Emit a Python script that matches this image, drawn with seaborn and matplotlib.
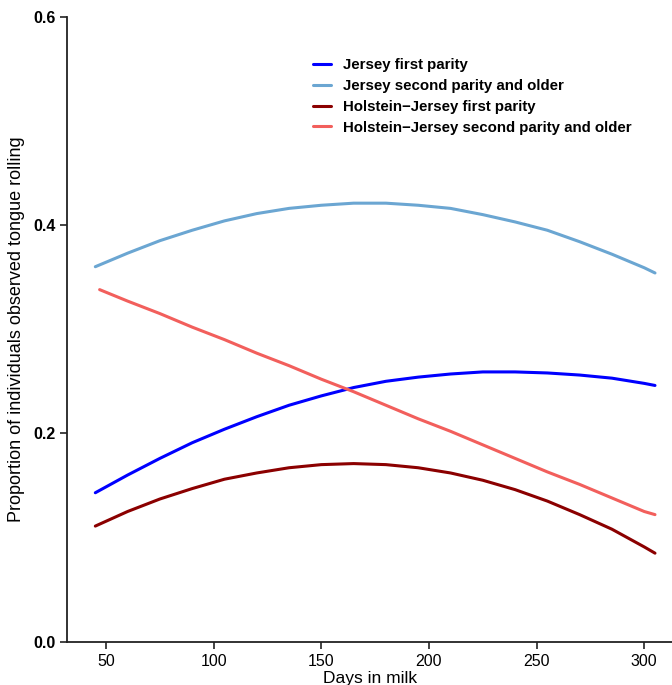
import pandas as pd
import matplotlib.pyplot as plt
import seaborn as sns

# Values
days = [45, 60, 75, 90, 105, 120, 135, 150, 165, 180, 195, 210, 225, 240, 255, 270, 285, 300, 305]
hj_days = [47, 60, 75, 90, 105, 120, 135, 150, 165, 180, 195, 210, 225, 240, 255, 270, 285, 300, 305]

jersey_first = [0.143, 0.160, 0.176, 0.191, 0.204, 0.216, 0.227, 0.236, 0.244, 0.250,
                0.254, 0.257, 0.259, 0.259, 0.258, 0.256, 0.253, 0.248, 0.246]
jersey_second = [0.360, 0.373, 0.385, 0.395, 0.404, 0.411, 0.416, 0.419, 0.421, 0.421,
                 0.419, 0.416, 0.410, 0.403, 0.395, 0.384, 0.372, 0.359, 0.354]
hj_first = [0.111, 0.125, 0.137, 0.147, 0.156, 0.162, 0.167, 0.170, 0.171, 0.170,
            0.167, 0.162, 0.155, 0.146, 0.135, 0.122, 0.108, 0.091, 0.085]
hj_second = [0.338, 0.327, 0.315, 0.302, 0.290, 0.277, 0.265, 0.252, 0.240, 0.227,
             0.214, 0.202, 0.189, 0.176, 0.163, 0.151, 0.138, 0.125, 0.122]

groups = [
    "Jersey first parity",
    "Jersey second parity and older",
    "Holstein\u2212Jersey first parity",
    "Holstein\u2212Jersey second parity and older",
]
colors = ["#0000FF", "#6BA6D2", "#8B0000", "#F25F5C"]

# Long-form table for seaborn
frames = []
for name, x, y in zip(groups, [days, days, days, hj_days],
                      [jersey_first, jersey_second, hj_first, hj_second]):
    frames.append(pd.DataFrame({"Days": x, "Proportion": y, "Group": name}))
df = pd.concat(frames, ignore_index=True)

sns.set_style("ticks")
plt.rcParams["font.family"] = ["Liberation Sans", "DejaVu Sans"]

fig = plt.figure(figsize=(6.72, 6.85), dpi=100)
ax = fig.add_axes([0.1002, 0.0632, 0.8998, 0.9124])

sns.lineplot(data=df, x="Days", y="Proportion", hue="Group",
             hue_order=groups, palette=colors, linewidth=2.2,
             sort=True, ax=ax)

ax.set_xlim(32, 312.9)
ax.set_ylim(0, 0.6)
ax.set_xticks([50, 100, 150, 200, 250, 300])
ax.set_yticks([0.0, 0.2, 0.4, 0.6])
ax.set_yticklabels(["0.0", "0.2", "0.4", "0.6"])
ax.tick_params(axis="both", labelsize=11.5, length=5, width=1.2,
               color="#222222", labelcolor="black")
for lab in ax.get_yticklabels():
    lab.set_fontweight("bold")

for side in ["top", "right"]:
    ax.spines[side].set_visible(False)
for side in ["left", "bottom"]:
    ax.spines[side].set_linewidth(1.3)
    ax.spines[side].set_color("#222222")

ax.set_xlabel("Days in milk", fontsize=12.5, labelpad=2, color="black")
ax.set_ylabel("Proportion of individuals observed tongue rolling", fontsize=13,
              labelpad=6, color="black")

leg = ax.legend(loc="upper left", bbox_to_anchor=(0.384, 0.955), frameon=False,
                handlelength=1.2, handletextpad=0.8, labelspacing=0.45,
                prop={"size": 10.8, "weight": "bold"})
for text in leg.get_texts():
    text.set_color("black")
for line in leg.get_lines():
    line.set_linewidth(2.2)

fig.savefig("out.png", dpi=100)
plt.close()
